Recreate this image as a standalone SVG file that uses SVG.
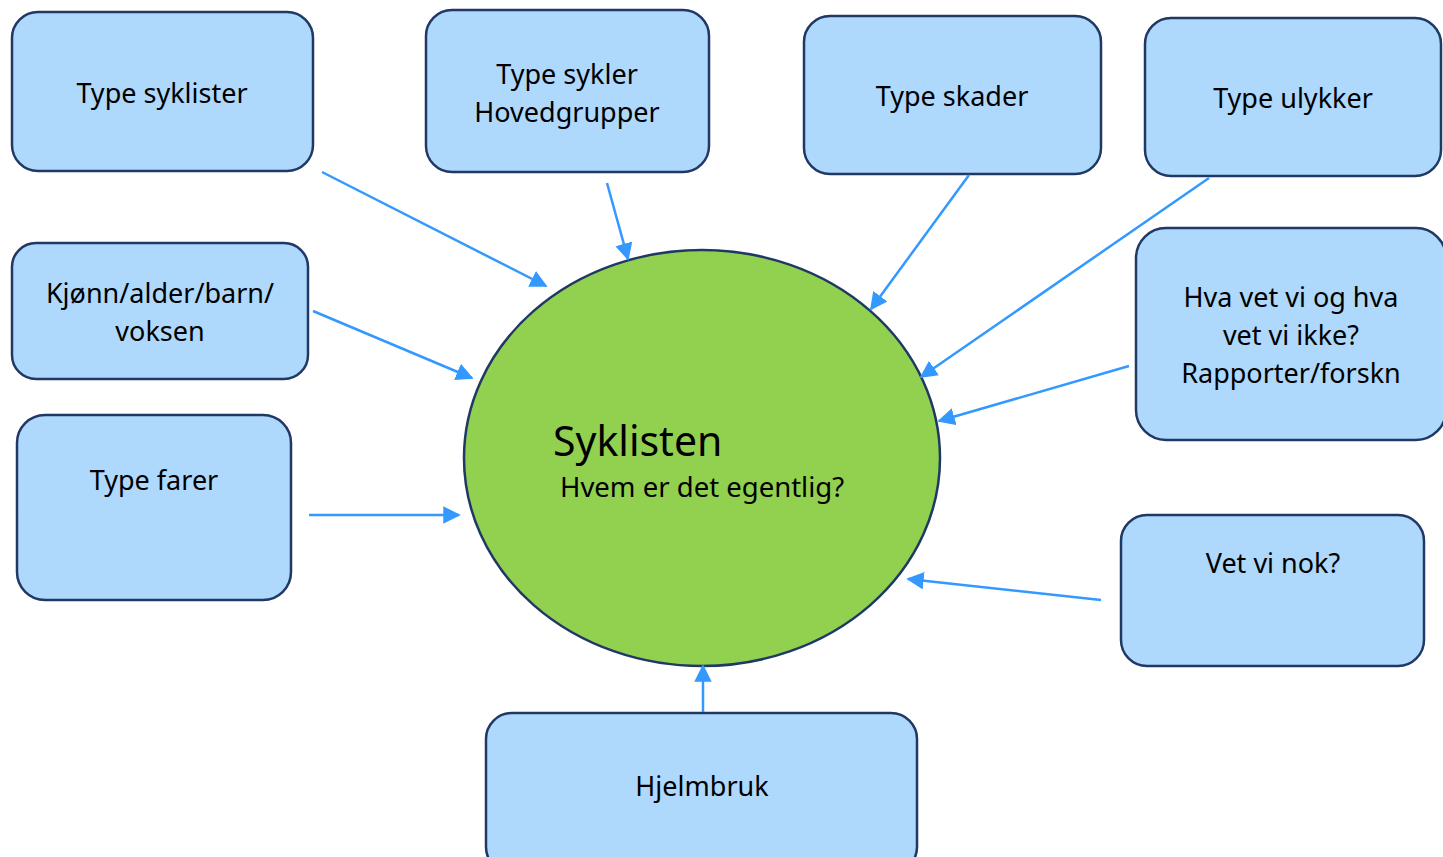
<svg xmlns="http://www.w3.org/2000/svg" width="1443" height="857" viewBox="0 0 1443 857">
<style>
.box{fill:#AFD8FD;stroke:#1F3864;stroke-width:2.5}
.t{font-family:"Noto Sans","Open Sans",sans-serif;font-size:27px;fill:#000;text-anchor:middle}
.c{stroke:#3399FF;stroke-width:2.5;fill:none;marker-end:url(#ah)}
</style>
<defs>
<marker id="ah" viewBox="0 0 10 10" refX="9" refY="5" markerWidth="7" markerHeight="7" markerUnits="strokeWidth" orient="auto">
<path d="M0,0 L10,5 L0,10 z" fill="#3399FF"/>
</marker>
</defs>
<rect width="1443" height="857" fill="#fff"/>
<g id="center">
<ellipse cx="702" cy="458" rx="238" ry="208" fill="#92D050" stroke="#1F3864" stroke-width="2.5"/>
<text x="553" y="456" style="font-family:'Noto Sans','Open Sans',sans-serif;font-size:41px">Syklisten</text>
<text x="560" y="497" style="font-family:'Noto Sans','Open Sans',sans-serif;font-size:27.5px">Hvem er det egentlig?</text>
</g>
<g id="n1"><rect class="box" x="12" y="12" width="301" height="159" rx="26"/><text class="t" x="162" y="103">Type syklister</text></g>
<g id="n2"><rect class="box" x="426" y="10" width="283" height="162" rx="26"/><text class="t" x="567" y="84">Type sykler</text><text class="t" x="567" y="122">Hovedgrupper</text></g>
<g id="n3"><rect class="box" x="804" y="16" width="297" height="158" rx="26"/><text class="t" x="952" y="106">Type skader</text></g>
<g id="n4"><rect class="box" x="1145" y="18" width="296" height="158" rx="26"/><text class="t" x="1293" y="108">Type ulykker</text></g>
<g id="n5"><rect class="box" x="12" y="243" width="296" height="136" rx="24"/><text class="t" x="160" y="303">Kjønn/alder/barn/</text><text class="t" x="160" y="341">voksen</text></g>
<g id="n6"><rect class="box" x="1136" y="228" width="310" height="212" rx="30"/><text class="t" x="1291" y="307">Hva vet vi og hva</text><text class="t" x="1291" y="345">vet vi ikke?</text><text class="t" x="1291" y="383">Rapporter/forskn</text></g>
<g id="n7"><rect class="box" x="17" y="415" width="274" height="185" rx="28"/><text class="t" x="154" y="490">Type farer</text></g>
<g id="n8"><rect class="box" x="1121" y="515" width="303" height="151" rx="26"/><text class="t" x="1273" y="573">Vet vi nok?</text></g>
<g id="n9"><rect class="box" x="486" y="713" width="431" height="160" rx="26"/><text class="t" x="702" y="796">Hjelmbruk</text></g>
<g id="connectors">
<line class="c" x1="322" y1="172" x2="546" y2="286"/>
<line class="c" x1="607" y1="183" x2="628" y2="259"/>
<line class="c" x1="969" y1="175" x2="871" y2="309"/>
<line class="c" x1="1209" y1="178" x2="921" y2="377"/>
<line class="c" x1="1129" y1="366" x2="939" y2="421"/>
<line class="c" x1="1101" y1="600" x2="908" y2="579"/>
<line class="c" x1="309" y1="515" x2="459" y2="515"/>
<line class="c" x1="313" y1="311" x2="472" y2="378"/>
<line class="c" x1="703" y1="712" x2="703" y2="666"/>
</g>
</svg>
